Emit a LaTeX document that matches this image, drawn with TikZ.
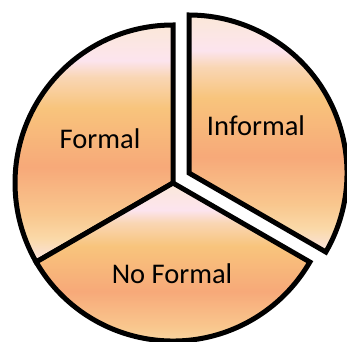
\documentclass[tikz,border=0pt]{standalone}
\usepackage{fontspec}
\setmainfont{Carlito}
\usepackage{tikz}
\definecolor{peachtop}{RGB}{251,232,216}
\definecolor{peachpink}{RGB}{252,228,238}
\definecolor{peachlight}{RGB}{249,214,180}
\definecolor{peachgold}{RGB}{248,196,124}
\definecolor{peachsalmon}{RGB}{247,169,121}
\definecolor{peachsoft}{RGB}{249,199,142}
\definecolor{peachpale}{RGB}{250,217,168}
\definecolor{peachbottom}{RGB}{251,228,226}
\pgfdeclareverticalshading{sunset}{100bp}{%
  color(0bp)=(peachbottom); color(25bp)=(peachbottom);
  color(30bp)=(peachpale); color(35bp)=(peachsoft);
  color(45bp)=(peachsalmon); color(57.5bp)=(peachgold);
  color(64bp)=(peachlight); color(67.5bp)=(peachpink);
  color(75bp)=(peachtop); color(100bp)=(peachtop)}

\begin{document}
\begin{tikzpicture}[
    x=1pt, y=1pt,
    every node/.style={font=\fontsize{28.5}{34}\selectfont},
    slice/.style={draw=black, line width=5pt, shading=sunset}
  ]
    \useasboundingbox (0,0) rectangle (347,341);
    \coordinate (hub) at (173,158);
    \coordinate (outhub) at (189,168);

    \draw[slice] (hub) -- ++(90:158) arc[start angle=90, end angle=210, radius=158pt] -- cycle;
    \draw[slice] (hub) -- ++(210:158) arc[start angle=210, end angle=330, radius=158pt] -- cycle;
    \draw[slice] (outhub) -- ++(-30:158) arc[start angle=-30, end angle=90, radius=158pt] -- cycle;

    \node[anchor=base] (formal) at (100,193) {Formal};
    \node[anchor=base] (informal) at (256,206) {Informal};
    \node[anchor=base] (noformal) at (172,58) {No Formal};
  \end{tikzpicture}
\end{document}
